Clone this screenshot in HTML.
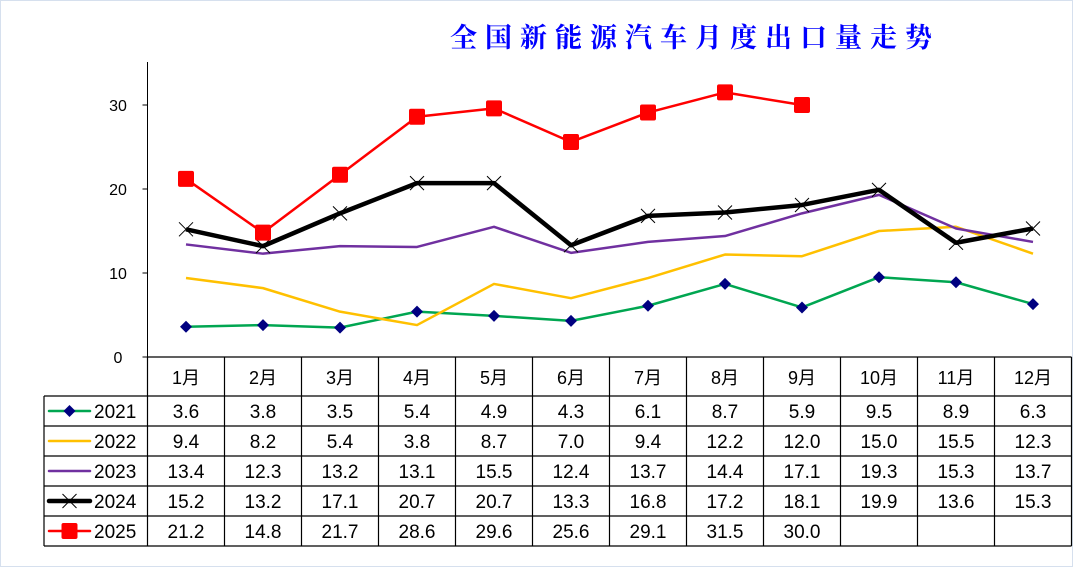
<!DOCTYPE html>
<html><head><meta charset="utf-8"><style>
html,body{margin:0;padding:0;background:#fff;}
svg{display:block;font-family:"Liberation Sans","Noto Sans CJK SC",sans-serif;}
</style></head><body>
<svg id="chart" width="1073" height="567" viewBox="0 0 1073 567">
<rect x="0.5" y="0.5" width="1072" height="566" fill="#fff" stroke="#d6e0ee"/>
<text x="695" y="47" text-anchor="middle" font-family="'Noto Serif CJK SC',serif" font-weight="bold" font-size="27" letter-spacing="8" fill="#0000ff">全国新能源汽车月度出口量走势</text>
<g id="axes"></g>
<g id="table"></g>
<g id="series"></g>
</svg>
<script>
const months=["1月","2月","3月","4月","5月","6月","7月","8月","9月","10月","11月","12月"];
const years=["2021","2022","2023","2024","2025"];
const s2021=[3.6,3.8,3.5,5.4,4.9,4.3,6.1,8.7,5.9,9.5,8.9,6.3];
const s2022=[9.4,8.2,5.4,3.8,8.7,7.0,9.4,12.2,12.0,15.0,15.5,12.3];
const s2023=[13.4,12.3,13.2,13.1,15.5,12.4,13.7,14.4,17.1,19.3,15.3,13.7];
const s2024=[15.2,13.2,17.1,20.7,20.7,13.3,16.8,17.2,18.1,19.9,13.6,15.3];
const s2025=[21.2,14.8,21.7,28.6,29.6,25.6,29.1,31.5,30.0];
const yTicks=[0,10,20,30];
const NS="http://www.w3.org/2000/svg";
const x0=147.5,x1=1071.5,colW=(x1-x0)/12;
const xs=i=>x0+colW*(i+0.5);
const ys=v=>357-v*8.4;
function mk(tag,attrs,parent,txt){const e=document.createElementNS(NS,tag);for(const k in attrs)e.setAttribute(k,attrs[k]);if(txt!==undefined)e.textContent=txt;parent.appendChild(e);return e;}
const axes=document.getElementById('axes'),table=document.getElementById('table'),series=document.getElementById('series');
let a=mk('line',{x1:x0,y1:62,x2:x0,y2:357,stroke:'#000','stroke-width':1},axes);


yTicks.forEach(t=>{
 const tl=mk('text',{x:118,y:ys(t)+6,'text-anchor':'middle','font-size':16,fill:'#000'},axes,String(t));
 
 
 const tk=mk('line',{x1:x0-5,y1:ys(t),x2:x0,y2:ys(t),stroke:'#000'},axes);
 
 
});
// table
const rowY=[357,396,426,456,486,516,546];
const lines=[];
lines.push([x0,357,x1,357]);
for(let r=1;r<rowY.length;r++)lines.push([44,rowY[r],x1,rowY[r]]);
for(let c=0;c<=12;c++)lines.push([x0+colW*c,357,x0+colW*c,546]);
lines.push([44,396,44,546]);
lines.forEach(l=>{const e=mk('line',{x1:l[0],y1:l[1],x2:l[2],y2:l[3],stroke:'#000','stroke-width':1.2},table);
 
 });
months.forEach((m,i)=>{const e=mk('text',{x:xs(i),y:384,'text-anchor':'middle','font-size':18,fill:'#000'},table,m);
 
 });
const all=[s2021,s2022,s2023,s2024,s2025];
const colors=["#00a651","#ffc000","#7030a0","#000000","#ff0000"];
const widths=[2.5,2.5,2.5,4.5,2.5];
all.forEach((s,r)=>{
 const cy=rowY[r+1]+15;
 s.forEach((v,i)=>{const e=mk('text',{x:xs(i),y:cy+7,'text-anchor':'middle','font-size':19,fill:'#000'},table,v.toFixed(1));
  
  });
 const g=mk('g',{},table);
 
 
 mk('line',{x1:49,y1:cy,x2:90,y2:cy,stroke:colors[r],'stroke-width':widths[r],'stroke-linecap':'round'},g);
 drawMarker(g,r,69.5,cy);
 mk('text',{x:94,y:cy+7,'font-size':19,fill:'#000'},g,years[r]);
});
function drawMarker(p,r,x,y){
 if(r===0)mk('polygon',{points:`${x},${y-6} ${x+6},${y} ${x},${y+6} ${x-6},${y}`,fill:'#000080'},p);
 if(r===3){mk('path',{d:`M${x-7} ${y-7}L${x+7} ${y+7}M${x-7} ${y+7}L${x+7} ${y-7}`,stroke:'#000','stroke-width':1},p);}
 if(r===4)mk('rect',{x:x-8,y:y-8,width:16,height:16,rx:2,fill:'#ff0000'},p);
}
all.forEach((s,r)=>{
 const g=mk('g',{},series);
 
 
 mk('polyline',{points:s.map((v,i)=>xs(i)+','+ys(v)).join(' '),fill:'none',stroke:colors[r],'stroke-width':widths[r],'stroke-linejoin':'round'},g);
 s.forEach((v,i)=>drawMarker(g,r,xs(i),ys(v)));
});
</script>
</body></html>
